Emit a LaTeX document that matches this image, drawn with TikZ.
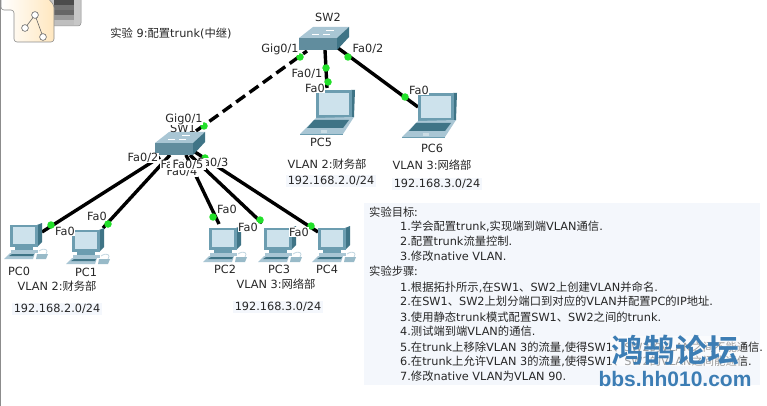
\documentclass[tikz,border=0pt]{standalone}
\usepackage{fontspec}
\setmainfont{DejaVu Sans}
\newfontfamily\cjk{Noto Sans CJK SC}
\newfontfamily\cjkbold{Noto Sans CJK SC Bold}
\newfontfamily\wmlatin{Liberation Sans}[BoldFont={Liberation Sans Bold}]
\newcommand{\zh}[1]{{\cjk #1}}
\definecolor{tealdark}{HTML}{3F7486}
\definecolor{tealmid}{HTML}{6C9DB0}
\definecolor{teallight}{HTML}{A9C6D4}
\definecolor{screenblue}{HTML}{CDE2EC}
\definecolor{panelbg}{HTML}{F4F7FC}
\definecolor{linkgreen}{HTML}{22E02A}
\definecolor{wmblue}{HTML}{3C7DB4}
\tikzset{
  lbl/.style={font=\fontsize{11.3}{13}\selectfont,text=black!85,inner sep=0.6pt},
  port/.style={lbl,fill=white},
  ipbox/.style={lbl,fill=panelbg,inner xsep=2pt,inner ysep=1.5pt},
  step line/.style={font=\fontsize{11.3}{13}\selectfont,text=black!85,anchor=west,inner sep=0pt},
  wire/.style={line width=3.4pt,black},
  trunkwire/.style={wire,dash pattern=on 11pt off 5.5pt},
  linkdot/.style={circle,fill=linkgreen,minimum size=7.5pt,inner sep=0pt},
  pics/laptop/.style={code={
    \fill[tealdark] (35,0) -- (39,0) -- (38,27) -- (35,28) -- cycle;
    \fill[tealmid] (0,0) -- (36,0) -- (36,28) -- (0,28) -- cycle;
    \fill[screenblue] (3,3) -- (33,3) -- (33,25) -- (3,25) -- cycle;
    \fill[teallight] (0,28) -- (38,27) -- (27,44) -- (-16,44) -- cycle;
    \fill[tealdark] (-2,30) -- (33,30) -- (27,38) -- (-9,38) -- cycle;
    \fill[tealmid] (-16,44) -- (27,44) -- (27,45) -- (-16,45) -- cycle;
    \fill[teallight!60] (5,40) rectangle (11,43);
  }},
  pics/desktop/.style={code={
    \fill[tealdark] (27,2) -- (32,0) -- (32,19) -- (27,24) -- cycle;
    \fill[tealmid] (0,2) -- (28,2) -- (28,24) -- (0,24) -- cycle;
    \fill[screenblue] (3,4) -- (25,4) -- (25,21) -- (3,21) -- cycle;
    \fill[tealmid] (5,24) rectangle (23,27);
    \fill[teallight] (1,27) -- (28,27) -- (28,30) -- (1,30) -- cycle;
    \fill[teallight] (0,30) -- (25,30) -- (23,36) -- (-6,36) -- cycle;
    \fill[tealdark] (2,31) -- (24,31) -- (23,33) -- (-1,33) -- cycle;
    \fill[tealmid!70] (27,31) -- (38,31) -- (36,36) -- (26,36) -- cycle;
    \draw[teallight!70,line width=0.8pt] (29,28) .. controls (35,24) and (39,27) .. (36,31);
  }},
  pics/switchbox/.style={code={
    \fill[tealmid!90!black] (0,0) rectangle (38,12);
    \fill[teallight] (0,0) -- (14,-11) -- (50,-11) -- (38,0) -- cycle;
    \fill[tealdark] (38,0) -- (50,-11) -- (50,-1) -- (38,12) -- cycle;
    \draw[white,line width=0.7pt] (13,-4) -- (20,-4) (27,-8) -- (35,-8) (24,-4) -- (31,-4);
  }}
}
\begin{document}
\begin{tikzpicture}[x=1pt,y=-1pt]
\useasboundingbox (0,0) rectangle (767,406);
\fill[white] (0,0) rectangle (767,406);
% window edge
\fill[black!45] (0,0) rectangle (1.3,406);

% toolbar icon: logical workspace
\fill[black!22,draw=black!45,line width=0.5pt,rounded corners=3pt] (36,-4) -- (81,-4) -- (81,26) -- (36,26) -- cycle;
\foreach \yy/\shadeval in {0/70,5/55,10/60,15/40,20/25}
  \fill[black!\shadeval] (54,\yy) rectangle (74,\yy+4.6);
\shade[left color=white,right color=yellow!25!orange!25,draw=black!45,line width=0.6pt,rounded corners=3pt]
  (1,-4) -- (1,10) -- (14,10) -- (14,42) -- (54,42) -- (54,5) -- (46,-4) -- cycle;
\draw[black!60,line width=0.6pt] (35,15) -- (25,28) (35,15) -- (43,37);
\foreach \p in {(35,15),(25,28),(43,37)} \draw[black!60,fill=white,line width=0.6pt] \p circle (3.4);

% heading
\node[lbl] (title) at (171,33) {\zh{实验} 9:\zh{配置}trunk(\zh{中继})};

% link ends
\coordinate (swOneUp) at (196,131);
\coordinate (swTwoTrunk) at (307,51);
\coordinate (swTwoDown) at (325,50);
\coordinate (swTwoRight) at (338,48);
\coordinate (swOneA) at (160,157);
\coordinate (swOneB) at (170,155);
\coordinate (swOneC) at (186,155);
\coordinate (swOneD) at (190,155);
\coordinate (swOneE) at (195,152);
\coordinate (pcZero) at (42,232);
\coordinate (pcOne) at (103,228);
\coordinate (pcTwo) at (219,224);
\coordinate (pcThree) at (262,223);
\coordinate (pcFour) at (318,232);
\coordinate (pcFive) at (327,88);
\coordinate (pcSix) at (418,107);

% connectors
\draw[trunkwire] (swOneUp) -- (swTwoTrunk);
\draw[wire] (swTwoDown) -- (pcFive);
\draw[wire] (swTwoRight) -- (pcSix);
\draw[wire] (swOneA) -- (pcZero);
\draw[wire] (swOneB) -- (pcOne);
\draw[wire] (swOneC) -- (pcTwo);
\draw[wire] (swOneD) -- (pcThree);
\draw[wire] (swOneE) -- (pcFour);

% devices
\pic at (155,143) {switchbox};
\pic at (299,38) {switchbox};
\pic at (316,90) {laptop};
\pic at (418,93) {laptop};
\pic at (10,223) {desktop};
\pic at (72,228) {desktop};
\pic at (209,226) {desktop};
\pic at (264,226) {desktop};
\pic at (318,226) {desktop};

% link lights
\node[linkdot] (dotA) at (204,126) {};
\node[linkdot] (dotB) at (300,57) {};
\node[linkdot] (dotC) at (326,68) {};
\node[linkdot] (dotD) at (328,82) {};
\node[linkdot] (dotE) at (348,57) {};
\node[linkdot] (dotF) at (405,97) {};
\node[linkdot] (dotG) at (51,225) {};
\node[linkdot] (dotH) at (108,224) {};
\node[linkdot] (dotI) at (213,217) {};
\node[linkdot] (dotJ) at (260,220) {};
\node[linkdot] (dotK) at (311,226) {};
\node[linkdot] (dotL) at (205,158) {};

% device names
\node[lbl] (nameSWtwo) at (328,17) {SW2};
\node[lbl] (nameSWone) at (183,128) {SW1};
\node[lbl] (namePCzero) at (19,271) {PC0};
\node[lbl] (namePCone) at (86,272) {PC1};
\node[lbl] (namePCtwo) at (225,269) {PC2};
\node[lbl] (namePCthree) at (279,269) {PC3};
\node[lbl] (namePCfour) at (327,269) {PC4};
\node[lbl] (namePCfive) at (321,142) {PC5};
\node[lbl] (namePCsix) at (432,148) {PC6};

% port labels
\node[port] (pGigOne) at (184,119) {Gig0/1};
\node[port] (pGigTwo) at (280,49) {Gig0/1};
\node[port] (pSixUp) at (368,49) {Fa0/2};
\node[port] (pFiveUp) at (307,74) {Fa0/1};
\node[port] (pFive) at (315,88) {Fa0};
\node[port] (pSix) at (419,90) {Fa0};
\node[port] (pFour) at (182,172) {Fa0/4};
\node[port] (pThree) at (213,163) {Fa0/3};
\node[port] (pOneA) at (176,165) {Fa0/1};
\node[port] (pTwoA) at (143,158) {Fa0/2};
\node[port,inner xsep=3pt] (pFiveA) at (188,165) {Fa0/5};
\node[port] (pPCzero) at (65,231) {Fa0};
\node[port] (pPCone) at (97,216) {Fa0};
\node[port] (pPCtwo) at (227,209) {Fa0};
\node[port] (pPCthree) at (248,227) {Fa0};
\node[port] (pPCfour) at (299,232) {Fa0};

% VLAN and subnet captions
\node[lbl] (vlanA) at (57,286) {VLAN 2:\zh{财务部}};
\node[ipbox] (ipA) at (57,309) {192.168.2.0/24};
\node[lbl] (vlanB) at (276,284) {VLAN 3:\zh{网络部}};
\node[ipbox] (ipB) at (278,307) {192.168.3.0/24};
\node[lbl] (vlanC) at (327,164) {VLAN 2:\zh{财务部}};
\node[ipbox] (ipC) at (331,181) {192.168.2.0/24};
\node[lbl] (vlanD) at (432,165) {VLAN 3:\zh{网络部}};
\node[ipbox] (ipD) at (437,184) {192.168.3.0/24};

% objectives and steps
\fill[panelbg] (364,203) rectangle (760,385);
\node[step line] (hOne) at (369,212) {\zh{实验目标:}};
\node[step line] (gOne) at (400,226) {1.\zh{学会配置}trunk,\zh{实现端到端}VLAN\zh{通信}.};
\node[step line] (gTwo) at (400,241) {2.\zh{配置}trunk\zh{流量控制}.};
\node[step line] (gThree) at (400,256) {3.\zh{修改}native VLAN.};
\node[step line] (hTwo) at (369,271) {\zh{实验步骤:}};
\node[step line] (sOne) at (400,287) {1.\zh{根据拓扑所示},\zh{在}SW1\zh{、}SW2\zh{上创建}VLAN\zh{并命名}.};
\node[step line] (sTwo) at (400,301) {2.\zh{在}SW1\zh{、}SW2\zh{上划分端口到对应的}VLAN\zh{并配置}PC\zh{的}IP\zh{地址}.};
\node[step line] (sThree) at (400,317) {3.\zh{使用静态}trunk\zh{模式配置}SW1\zh{、}SW2\zh{之间的}trunk.};
\node[step line] (sFour) at (400,331) {4.\zh{测试端到端}VLAN\zh{的通信}.};
\node[step line] (sFive) at (400,347) {5.\zh{在}trunk\zh{上移除}VLAN 3\zh{的流量},\zh{使得}SW1\zh{、}SW2\zh{的}VLAN\zh{之间不能通信}.};
\node[step line] (sSix) at (400,361) {6.\zh{在}trunk\zh{上允许}VLAN 3\zh{的流量},\zh{使得}SW1\zh{、}SW2\zh{的}VLAN\zh{之间能通信}.};
\node[step line] (sSeven) at (400,376) {7.\zh{修改}native VLAN\zh{为}VLAN 90.};

% forum mark over a light veil
\fill[white,opacity=0.55] (610,336) rectangle (740,366);
\node[inner sep=0pt,text=wmblue,font=\cjkbold\fontsize{32}{34}\selectfont] (wmZh) at (675,350) {鸿鹄论坛};
\node[inner sep=0pt,text=wmblue,font=\wmlatin\bfseries\fontsize{21}{24}\selectfont] (wmEn) at (675,379) {bbs.hh010.com};
\end{tikzpicture}
\end{document}
